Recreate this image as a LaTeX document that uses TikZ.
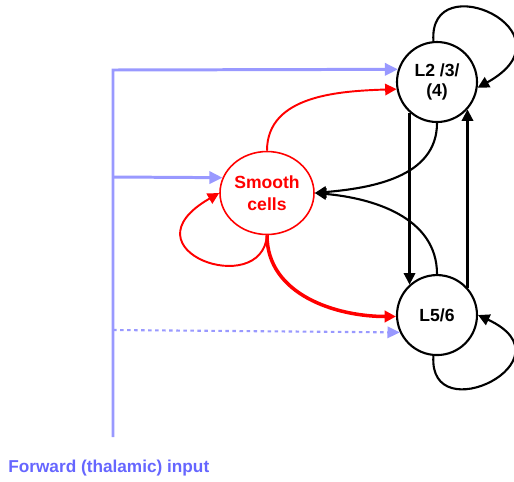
\documentclass[tikz,border=0pt]{standalone}
\usepackage{fontspec}
\setmainfont{Liberation Sans}
\usetikzlibrary{positioning,arrows.meta,shapes.geometric}
\definecolor{fwdblue}{RGB}{153,153,255}
\definecolor{fwdtext}{RGB}{102,102,255}
\tikzset{
  layer/.style={circle, draw, line width=1.2pt, minimum size=1.6cm, inner sep=0pt, font=\bfseries\fontsize{10}{11.5}\selectfont, align=center},
  smoothcell/.style={ellipse, draw=red, text=red, line width=0.9pt, minimum width=1.88cm, minimum height=1.66cm, inner sep=0pt, font=\bfseries\fontsize{10}{12.5}\selectfont, align=center},
  arr/.style={-{Triangle[length=6.5pt,width=6.5pt]}},
  link/.style={arr, line width=1.2pt},
  redlink/.style={arr, red, line width=1.1pt},
  redthick/.style={arr, red, line width=2pt},
  fwd/.style={-{Triangle[length=7.5pt,width=7pt]}, fwdblue, line width=1.7pt},
  fwddot/.style={-{Triangle[length=7pt,width=6.5pt]}, fwdblue, line width=1.2pt, dash pattern=on 2pt off 2pt},
}

\begin{document}
\begin{tikzpicture}[x=0.02cm, y=-0.02cm]
  \useasboundingbox (0,0) rectangle (514,481);

  \node[layer] (l2) at (437,82) {L2 /3/\\(4)};
  \node[layer] (l56) [below=3.02cm of l2] {L5/6};
  \node[smoothcell] (smooth) at (267,193) {Smooth\\cells};
  \node[anchor=west, inner sep=0pt, text=fwdtext, font=\bfseries\fontsize{9.8}{12}\selectfont] (fwdlabel) at (8,468) {Forward (thalamic) input};

  % thalamic input
  \coordinate (fwdbot) at (113,437);
  \coordinate (fwdtop) at (113,70);
  \coordinate (fwdmid) at (113,177);
  \coordinate (fwdlow) at (113,330);
  \draw[fwd] (fwdbot) -- (fwdtop) -- (l2.162);
  \draw[fwd] (fwdmid) -- (smooth.161);
  \draw[fwddot] (fwdlow) -- (l56.205);

  % smooth cells
  \draw[redlink] (smooth.north) to[out=90, in=182] (l2.190);
  \draw[redthick] (smooth.south) to[out=-90, in=180] (l56.182);
  \draw[redlink] (smooth.south) .. controls (262,300) and (120,250) .. (smooth.west);

  % between layers
  \draw[link] (l2.-132) -- (l56.132);
  \draw[link] (l56.42) -- (l2.-42);
  \draw[link] (l2.south) to[out=-90, in=5] (smooth.east);
  \draw[link] (l56.north) to[out=90, in=-5] (smooth.east);
  \draw[link] (l2.95) .. controls (428,-36) and (578,32) .. (l2.-8);
  \draw[link] (l56.-95) .. controls (428,432) and (575,360) .. (l56.0);

\end{tikzpicture}
\end{document}
